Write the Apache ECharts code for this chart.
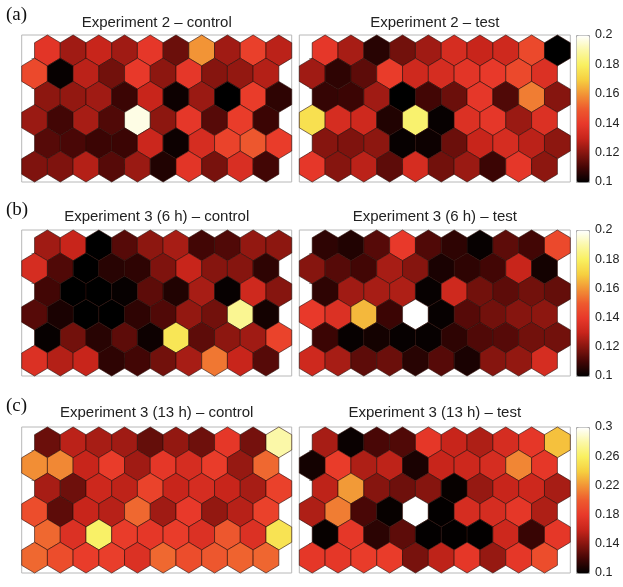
<!DOCTYPE html>
<html><head><meta charset="utf-8">
<script src="https://cdn.jsdelivr.net/npm/echarts@6/dist/echarts.min.js"></script>
<style>html,body{margin:0;padding:0;background:#fff}#c{width:623px;height:587px}</style>
</head><body><div id="c"></div>
<script>
// Hex-grid values, rows listed from top to bottom, 10 cells per row
const exp2Control = [
  [0.138,0.124,0.130,0.124,0.139,0.116,0.160,0.124,0.142,0.128],
  [0.145,0.101,0.128,0.117,0.140,0.121,0.139,0.120,0.122,0.127],
  [0.121,0.122,0.124,0.109,0.130,0.102,0.123,0.100,0.141,0.107],
  [0.123,0.110,0.125,0.112,0.197,0.121,0.139,0.113,0.141,0.109],
  [0.113,0.111,0.109,0.109,0.131,0.102,0.134,0.143,0.149,0.141],
  [0.119,0.119,0.127,0.113,0.123,0.105,0.138,0.118,0.135,0.110]
];
const exp2Test = [
  [0.139,0.125,0.106,0.117,0.124,0.134,0.130,0.132,0.145,0.100],
  [0.124,0.107,0.114,0.141,0.132,0.134,0.138,0.140,0.145,0.136],
  [0.108,0.109,0.124,0.100,0.110,0.116,0.139,0.112,0.156,0.120],
  [0.175,0.134,0.132,0.105,0.182,0.101,0.136,0.139,0.123,0.136],
  [0.120,0.119,0.121,0.101,0.102,0.116,0.130,0.134,0.128,0.121],
  [0.139,0.120,0.128,0.114,0.134,0.117,0.123,0.109,0.139,0.121]
];
const exp3h6Control = [
  [0.124,0.130,0.100,0.113,0.121,0.125,0.110,0.112,0.122,0.121],
  [0.134,0.112,0.100,0.106,0.107,0.119,0.130,0.120,0.120,0.107],
  [0.110,0.100,0.100,0.101,0.114,0.105,0.125,0.101,0.132,0.120],
  [0.113,0.104,0.100,0.100,0.107,0.112,0.122,0.117,0.187,0.103],
  [0.101,0.117,0.106,0.114,0.102,0.177,0.114,0.121,0.124,0.143],
  [0.136,0.127,0.130,0.107,0.110,0.117,0.125,0.155,0.130,0.113]
];
const exp3h6Test = [
  [0.107,0.105,0.113,0.140,0.112,0.107,0.101,0.114,0.110,0.145],
  [0.120,0.113,0.110,0.125,0.120,0.104,0.107,0.110,0.130,0.103],
  [0.107,0.124,0.125,0.126,0.101,0.132,0.117,0.114,0.117,0.115],
  [0.140,0.136,0.166,0.109,0.200,0.101,0.113,0.117,0.120,0.121],
  [0.109,0.101,0.103,0.101,0.101,0.107,0.112,0.113,0.117,0.117],
  [0.132,0.125,0.114,0.116,0.106,0.113,0.104,0.120,0.122,0.134]
];
const exp3h13Control = [
  [0.132,0.156,0.150,0.148,0.130,0.144,0.133,0.178,0.135,0.280],
  [0.218,0.216,0.160,0.182,0.148,0.178,0.168,0.182,0.145,0.205],
  [0.150,0.133,0.163,0.157,0.186,0.160,0.168,0.160,0.150,0.185],
  [0.192,0.128,0.160,0.155,0.205,0.148,0.180,0.144,0.155,0.185],
  [0.205,0.172,0.262,0.182,0.178,0.182,0.172,0.198,0.172,0.252],
  [0.205,0.192,0.182,0.183,0.172,0.205,0.192,0.198,0.203,0.204]
];
const exp3h13Test = [
  [0.150,0.103,0.122,0.124,0.178,0.160,0.152,0.168,0.178,0.235],
  [0.106,0.182,0.152,0.157,0.108,0.160,0.163,0.168,0.215,0.178],
  [0.157,0.222,0.140,0.133,0.140,0.102,0.145,0.160,0.163,0.150],
  [0.152,0.212,0.122,0.102,0.300,0.101,0.168,0.168,0.178,0.152],
  [0.102,0.178,0.113,0.128,0.101,0.101,0.101,0.163,0.117,0.178],
  [0.178,0.178,0.182,0.182,0.136,0.157,0.178,0.145,0.178,0.192]
];
const panelTitles = [
  'Experiment 2 – control', 'Experiment 2 – test',
  'Experiment 3 (6 h) – control', 'Experiment 3 (6 h) – test',
  'Experiment 3 (13 h) – control', 'Experiment 3 (13 h) – test'
];
const panelLetters = ['(a)', '(b)', '(c)'];
const colorRanges = [[0.1, 0.2], [0.1, 0.2], [0.1, 0.3]];
const cbTicksAB = [0.1, 0.12, 0.14, 0.16, 0.18, 0.2];
const cbTicksC = [0.1, 0.14, 0.18, 0.22, 0.26, 0.3];
const xTickVals = [1, 3.5, 6, 8.5];
const yTickVals = [0.55, 1.74, 2.92, 4.04];

const hotColors = ['#000000','#420605','#86150f','#c8251b','#e8392a','#ee5a2e','#f29436','#f6d040','#f9f060','#fbf8a8','#ffffff'];

const S3 = Math.sqrt(3) / 2;
const R = 1 / Math.sqrt(3);
const HEX = [[0, R], [0.5, R / 2], [0.5, -R / 2], [0, -R], [-0.5, -R / 2], [-0.5, R / 2]];

function toCells(grid) {
  const out = [];
  grid.forEach((row, t) => {
    const r = 5 - t;
    row.forEach((v, c) => out.push([c + (r % 2 ? 0.5 : 0), r * S3, v]));
  });
  return out;
}
const panelData = [exp2Control, exp2Test, exp3h6Control, exp3h6Test, exp3h13Control, exp3h13Test].map(toCells);

const rowTops = [35, 230, 427];
const rowH = [147, 146, 146];
const colX = [21.7, 299.3];
const colW = [270, 271];
const cbX = 576, cbW = 13;

const grids = [], xAxes = [], yAxes = [], series = [], visualMaps = [], graphics = [];
const tickStyle = { show: true, inside: true, length: 3, lineStyle: { color: '#999', width: 1 } };

for (let p = 0; p < 6; p++) {
  const row = Math.floor(p / 2), col = p % 2;
  grids.push({ left: colX[col], top: rowTops[row], width: colW[col], height: rowH[row],
    show: true, borderColor: '#b8b8b8', borderWidth: 1, backgroundColor: '#fff' });
  const gi = grids.length - 1;
  ['bottom', 'top'].forEach(pos => xAxes.push({ type: 'value', gridIndex: gi, position: pos, min: -0.5, max: 10,
    axisLine: { show: false }, splitLine: { show: false }, axisLabel: { show: false },
    axisTick: Object.assign({ customValues: xTickVals }, tickStyle) }));
  ['left', 'right'].forEach(pos => yAxes.push({ type: 'value', gridIndex: gi, position: pos, min: -R, max: 5 * S3 + R,
    axisLine: { show: false }, splitLine: { show: false }, axisLabel: { show: false },
    axisTick: Object.assign({ customValues: yTickVals }, tickStyle) }));
  series.push({
    type: 'custom', xAxisIndex: gi * 2, yAxisIndex: gi * 2, data: panelData[p],
    dimensions: ['x', 'y', 'v'], encode: { x: 0, y: 1 }, silent: true,
    renderItem: function (params, api) {
      const cx = api.value(0), cy = api.value(1);
      const pts = HEX.map(d => api.coord([cx + d[0], cy + d[1]]));
      return { type: 'polygon', shape: { points: pts },
        style: { fill: api.visual('color'), stroke: '#2a0c07', lineWidth: 0.6 } };
    }
  });
  graphics.push({ type: 'text', x: colX[col] + colW[col] / 2, y: [22.5, 216.5, 413][row],
    style: { text: panelTitles[p], font: '15px "Liberation Sans", Arial, sans-serif', fill: '#222',
      textAlign: 'center', textVerticalAlign: 'middle' } });
}

for (let row = 0; row < 3; row++) {
  grids.push({ left: cbX, top: rowTops[row], width: cbW, height: rowH[row], show: false });
  const gi = grids.length - 1;
  xAxes.push({ type: 'value', gridIndex: gi, show: false, min: 0, max: 1 });
  yAxes.push({ type: 'value', gridIndex: gi, position: 'right', min: colorRanges[row][0], max: colorRanges[row][1],
    axisLine: { show: false }, splitLine: { show: false }, axisTick: { show: false },
    axisLabel: { customValues: row < 2 ? cbTicksAB : cbTicksC, margin: 6, fontSize: 12.5,
      fontFamily: '"Liberation Sans", Arial, sans-serif', color: '#222' } });
  visualMaps.push({ type: 'continuous', min: colorRanges[row][0], max: colorRanges[row][1],
    seriesIndex: [row * 2, row * 2 + 1], dimension: 2, inRange: { color: hotColors },
    calculable: false, hoverLink: false, left: cbX, top: rowTops[row], itemWidth: cbW, itemHeight: rowH[row],
    padding: 0, borderColor: '#aaa', borderWidth: 1, text: null });
  graphics.push({ type: 'text', x: 6, y: [15, 210, 406][row],
    style: { text: panelLetters[row], font: '19px "Liberation Serif", "Times New Roman", serif', fill: '#111',
      textAlign: 'left', textVerticalAlign: 'middle' } });
}

const chart = echarts.init(document.getElementById('c'), null, { renderer: 'canvas' });
chart.setOption({
  animation: false, backgroundColor: '#fff',
  grid: grids, xAxis: xAxes, yAxis: yAxes, series: series, visualMap: visualMaps, graphic: graphics
});
</script></body></html>
